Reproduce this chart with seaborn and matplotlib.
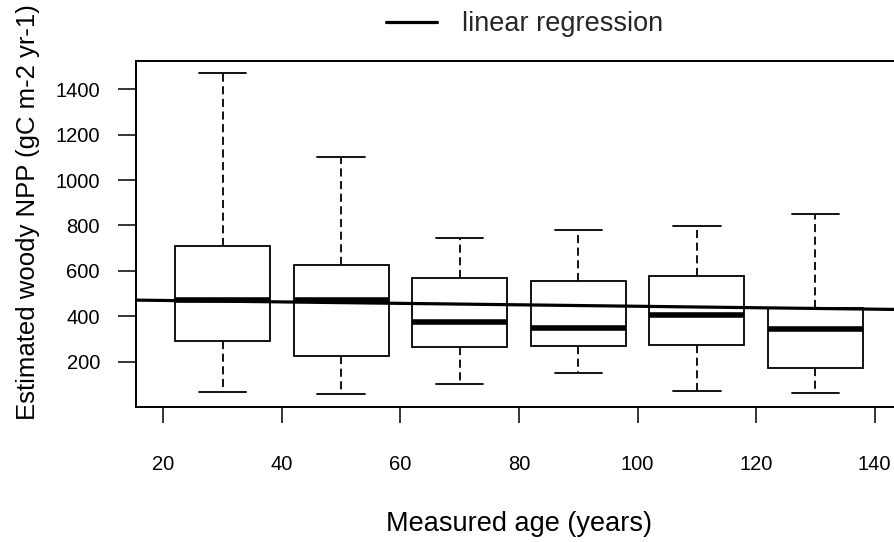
import numpy as np
import pandas as pd
import matplotlib
matplotlib.use("Agg")
import matplotlib.pyplot as plt
import seaborn as sns
from matplotlib.lines import Line2D

# ---- data ----
ages = [30, 50, 70, 90, 110, 130]
whisk_lo = [68, 58, 102, 149, 72, 64]
q1 = [292, 225, 263, 268, 272, 174]
median = [473, 470, 376, 348, 405, 343]
q3 = [709, 628, 571, 556, 578, 435]
whisk_hi = [1469, 1102, 743, 778, 797, 850]
reg_intercept = 476.4
reg_slope = -0.32
x_ticks = [20, 40, 60, 80, 100, 120, 140]
y_ticks = [200, 400, 600, 800, 1000, 1200, 1400]

# five-number summaries -> rows (quartiles of 5 points reproduce q1/median/q3)
rows = []
for a, lo, b, m, c, hi in zip(ages, whisk_lo, q1, median, q3, whisk_hi):
    for v in (lo, b, m, c, hi):
        rows.append({"age": a, "npp": v})
df = pd.DataFrame(rows)

sns.set_style("ticks")
plt.rcParams["font.family"] = ["Liberation Sans", "DejaVu Sans"]

W, H = 894, 542
fig = plt.figure(figsize=(W / 100, H / 100), dpi=100)
ax = fig.add_axes([136 / W, 1 - 407 / H, (902 - 136) / W, (407 - 61) / H])

sns.boxplot(
    data=df, x="age", y="npp", native_scale=True, ax=ax,
    whis=(0, 100), width=0.8, color="white", linecolor="black",
    linewidth=1.3, fliersize=0,
    boxprops=dict(facecolor="white", edgecolor="black", linewidth=1.3),
    medianprops=dict(color="black", linewidth=4.0),
    whiskerprops=dict(color="black", linestyle=(0, (4.5, 2.5)), linewidth=1.3),
    capprops=dict(color="black", linewidth=1.3),
)

ax.axline((0, reg_intercept), slope=reg_slope, color="black", linewidth=2.3, zorder=10)

ax.set_xlim(15.4, 144.6)
ax.set_ylim(1, 1524)
ax.set_xticks(x_ticks)
ax.set_yticks(y_ticks)
ax.set_xticklabels([str(t) for t in x_ticks])
ax.set_yticklabels([str(t) for t in y_ticks])

for s in ax.spines.values():
    s.set_visible(True)
    s.set_linewidth(1.4)
    s.set_color("black")
ax.tick_params(axis="x", direction="out", length=11.5, width=1.1, pad=23,
               labelsize=14.5, colors="black")
ax.tick_params(axis="y", direction="out", length=13, width=1.1, pad=13,
               labelsize=14.5, colors="black")

ax.set_xlabel("Measured age (years)", fontsize=19.5, color="black")
ax.set_ylabel("Estimated woody NPP (gC m-2 yr-1)", fontsize=18.5, color="black")
ax.xaxis.set_label_coords(519 / W, 1 - 511 / H, transform=fig.transFigure)
ax.yaxis.set_label_coords(40 / W, 1 - 212 / H, transform=fig.transFigure)

handle = Line2D([], [], color="black", linewidth=2.3)
ax.legend([handle], ["linear regression"], loc="center left",
          bbox_to_anchor=(386 / W, 1 - 24 / H), bbox_transform=fig.transFigure,
          frameon=False, borderaxespad=0, borderpad=0, handlelength=1.9,
          handletextpad=0.9, fontsize=19.5)

fig.savefig("out.png", dpi=100)
